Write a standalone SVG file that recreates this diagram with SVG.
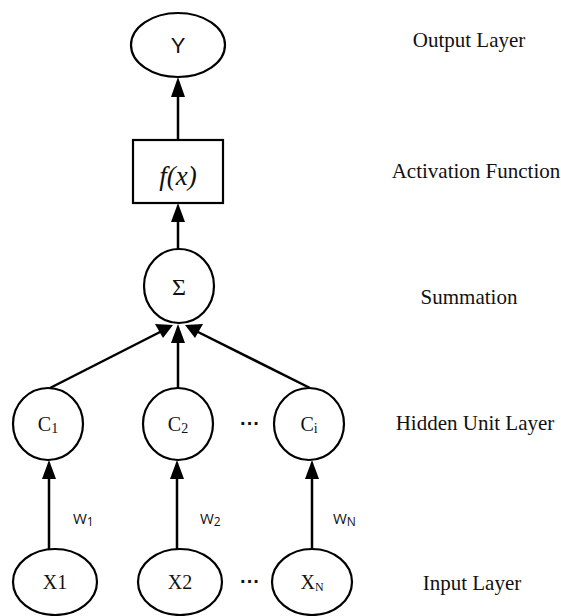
<svg xmlns="http://www.w3.org/2000/svg" width="561" height="616" viewBox="0 0 561 616">
<style>
.n{fill:#fff;stroke:#000;stroke-width:2.2}
.c{stroke:#000;stroke-width:2.5;fill:none}
.t{font-family:"Liberation Serif",serif;font-size:20px;fill:#111;text-anchor:middle}
.lab{font-family:"Liberation Serif",serif;font-size:21px;fill:#111;text-anchor:middle}
.w{font-family:"Open Sans","Liberation Sans",sans-serif;font-size:15px;fill:#111}
.d{font-family:"Liberation Sans",sans-serif;font-size:20px;font-weight:bold;fill:#111;text-anchor:middle}
</style>
<g id="connectors">
<line class="c" x1="178" y1="140" x2="178" y2="96"/>
<path d="M178,77 L171,97 L185,97 Z"/>
<line class="c" x1="178" y1="250" x2="178" y2="221"/>
<path d="M178,203 L171,222 L185,222 Z"/>
<line class="c" x1="50" y1="388" x2="162" y2="331"/>
<path d="M173,325 L155,324 L163,338 Z"/>
<line class="c" x1="178" y1="388" x2="178" y2="342"/>
<path d="M178,324 L171,343 L185,343 Z"/>
<line class="c" x1="310" y1="388" x2="196" y2="331"/>
<path d="M185,325 L195,338 L203,324 Z"/>
<line class="c" x1="49" y1="549" x2="49" y2="478"/>
<path d="M49,460 L42,479 L56,479 Z"/>
<line class="c" x1="177" y1="549" x2="177" y2="478"/>
<path d="M177,460 L170,479 L184,479 Z"/>
<line class="c" x1="312" y1="549" x2="312" y2="478"/>
<path d="M312,460 L305,479 L319,479 Z"/>
</g>
<g id="Y"><ellipse class="n" cx="178" cy="45" rx="47" ry="32"/><text x="178" y="53" style="font-family:'Liberation Sans',sans-serif;font-size:22px;text-anchor:middle;fill:#111">Y</text></g>
<g id="fx"><rect class="n" x="133" y="140" width="90" height="63"/><text x="178" y="185" style="font-family:'Liberation Serif',serif;font-style:italic;font-size:27px;text-anchor:middle;fill:#111">f(x)</text></g>
<g id="sum"><ellipse class="n" cx="179" cy="286" rx="35" ry="37"/><text x="179" y="295" class="t" style="font-size:24px">Σ</text></g>
<g id="C1"><ellipse class="n" cx="48" cy="424" rx="35" ry="36"/><text x="48" y="431" class="t">C<tspan font-size="14" dy="2">1</tspan></text></g>
<g id="C2"><ellipse class="n" cx="178" cy="424" rx="35" ry="36"/><text x="178" y="431" class="t">C<tspan font-size="14" dy="2">2</tspan></text></g>
<g id="Ci"><ellipse class="n" cx="309" cy="424" rx="35" ry="36"/><text x="309" y="431" class="t">C<tspan font-size="14" dy="2">i</tspan></text></g>
<text x="250" y="430" class="d">···</text>
<g id="X1"><ellipse class="n" cx="55" cy="582" rx="42" ry="33"/><text x="55" y="589" class="t">X1</text></g>
<g id="X2"><ellipse class="n" cx="180" cy="582" rx="42" ry="33"/><text x="180" y="589" class="t">X2</text></g>
<g id="XN"><ellipse class="n" cx="312" cy="582" rx="40" ry="33"/><text x="312" y="589" class="t">X<tspan font-size="12" dy="2">N</tspan></text></g>
<text x="250" y="588" class="d">···</text>
<text x="73" y="524" class="w">W<tspan font-size="12" dy="2">1</tspan></text>
<text x="200" y="524" class="w">W<tspan font-size="12" dy="2">2</tspan></text>
<text x="333" y="524" class="w">W<tspan font-size="12" dy="2">N</tspan></text>
<g id="labels">
<text x="469" y="47" class="lab">Output Layer</text>
<text x="476" y="178" class="lab">Activation Function</text>
<text x="469" y="304" class="lab">Summation</text>
<text x="475" y="430" class="lab">Hidden Unit Layer</text>
<text x="472" y="590" class="lab">Input Layer</text>
</g>
</svg>
